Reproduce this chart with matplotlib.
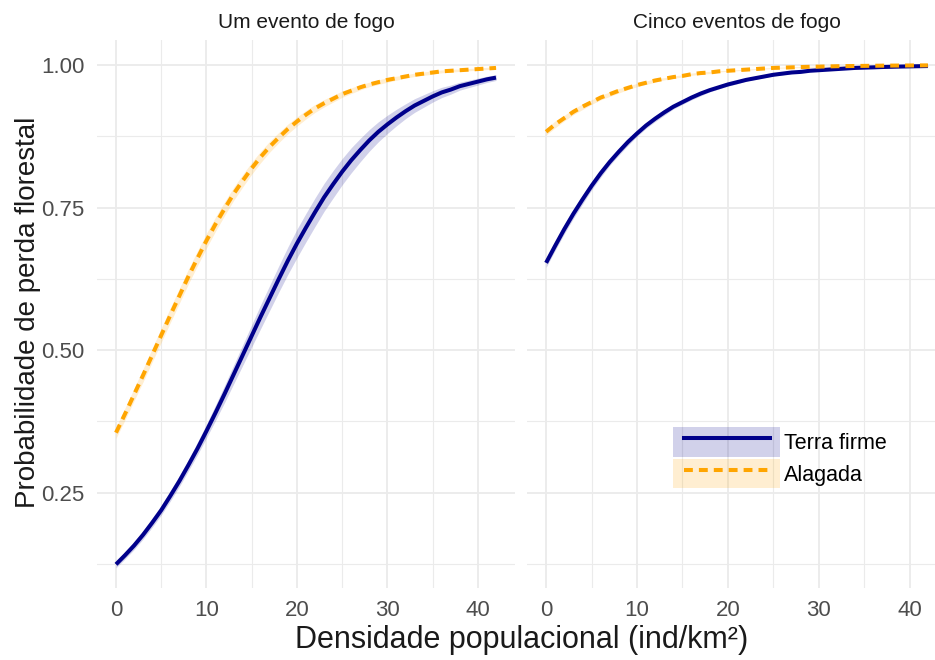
import matplotlib.pyplot as plt
from matplotlib.lines import Line2D
from matplotlib.patches import Patch
from matplotlib.ticker import MultipleLocator
from matplotlib.colors import to_rgba
from matplotlib.legend_handler import HandlerLine2D

plt.rcParams['font.family'] = ['Liberation Sans', 'DejaVu Sans']

# densidade populacional (ind/km2) onde as curvas foram lidas
densidade = list(range(0, 43))

# um evento de fogo
terra_um = [0.124, 0.140, 0.157, 0.176, 0.197, 0.219, 0.244, 0.270, 0.298, 0.327,
            0.358, 0.390, 0.423, 0.457, 0.491, 0.525, 0.559, 0.592, 0.625, 0.657,
            0.687, 0.715, 0.742, 0.768, 0.791, 0.813, 0.833, 0.851, 0.868, 0.883,
            0.896, 0.908, 0.919, 0.929, 0.937, 0.945, 0.952, 0.957, 0.963, 0.967,
            0.971, 0.975, 0.978]
terra_um_se = [0.006, 0.0065, 0.007, 0.0075, 0.008, 0.0085, 0.009, 0.0095, 0.010, 0.011,
               0.012, 0.0135, 0.015, 0.0165, 0.018, 0.0195, 0.021, 0.022, 0.023, 0.024,
               0.025, 0.025, 0.025, 0.0245, 0.024, 0.023, 0.022, 0.0205, 0.019, 0.0175,
               0.016, 0.0145, 0.013, 0.012, 0.011, 0.010, 0.009, 0.008, 0.007, 0.0065,
               0.006, 0.0055, 0.005]
alagada_um = [0.355, 0.388, 0.422, 0.456, 0.491, 0.526, 0.561, 0.595, 0.629, 0.661,
              0.692, 0.721, 0.748, 0.774, 0.797, 0.819, 0.839, 0.857, 0.873, 0.888,
              0.901, 0.913, 0.924, 0.933, 0.941, 0.949, 0.955, 0.961, 0.966, 0.970,
              0.974, 0.977, 0.980, 0.983, 0.985, 0.987, 0.989, 0.990, 0.991, 0.992,
              0.993, 0.994, 0.995]
alagada_um_se = [0.010, 0.0105, 0.011, 0.0115, 0.012, 0.0125, 0.013, 0.013, 0.013, 0.013,
                 0.013, 0.0125, 0.012, 0.0115, 0.011, 0.0105, 0.010, 0.0095, 0.009, 0.0085,
                 0.008, 0.0075, 0.007, 0.0065, 0.006, 0.0055, 0.005, 0.0045, 0.004, 0.004,
                 0.004, 0.0035, 0.003, 0.003, 0.003, 0.003, 0.0025, 0.0025, 0.002, 0.002,
                 0.002, 0.002, 0.002]

# cinco eventos de fogo
terra_cinco = [0.653, 0.683, 0.712, 0.739, 0.764, 0.788, 0.810, 0.830, 0.848, 0.865,
               0.880, 0.894, 0.906, 0.917, 0.927, 0.935, 0.943, 0.950, 0.956, 0.961,
               0.966, 0.970, 0.974, 0.977, 0.980, 0.983, 0.985, 0.987, 0.988, 0.990,
               0.991, 0.992, 0.993, 0.994, 0.995, 0.9955, 0.996, 0.9966, 0.997, 0.9974,
               0.9977, 0.998, 0.9983]
terra_cinco_se = [0.008, 0.008, 0.008, 0.008, 0.008, 0.007, 0.007, 0.006, 0.006, 0.006,
                  0.005, 0.005, 0.005, 0.005, 0.004, 0.004, 0.004, 0.004, 0.003, 0.003,
                  0.003, 0.003, 0.002, 0.002, 0.002, 0.002, 0.002, 0.002, 0.001, 0.001,
                  0.001, 0.001, 0.001, 0.001, 0.001, 0.001, 0.001, 0.001, 0.001, 0.001,
                  0.001, 0.001, 0.001]
alagada_cinco = [0.883, 0.896, 0.907, 0.918, 0.927, 0.935, 0.943, 0.949, 0.955, 0.960,
                 0.965, 0.969, 0.973, 0.976, 0.979, 0.981, 0.984, 0.986, 0.987, 0.989,
                 0.990, 0.991, 0.992, 0.993, 0.994, 0.995, 0.9955, 0.996, 0.9965, 0.997,
                 0.9973, 0.9976, 0.998, 0.9982, 0.9984, 0.9986, 0.9988, 0.999, 0.9991, 0.9992,
                 0.9993, 0.9994, 0.9995]
alagada_cinco_se = [0.006, 0.006, 0.005, 0.005, 0.005, 0.004, 0.004, 0.004, 0.004, 0.003,
                    0.003, 0.003, 0.003, 0.002, 0.002, 0.002, 0.002, 0.002, 0.002, 0.001,
                    0.001, 0.001, 0.001, 0.001, 0.001, 0.001, 0.001, 0.001, 0.001, 0.001,
                    0.001, 0.001, 0.001, 0.001, 0.001, 0.001, 0.001, 0.001, 0.001, 0.001,
                    0.001, 0.001, 0.001]

paineis = ["Um evento de fogo", "Cinco eventos de fogo"]
series = ["Terra firme", "Alagada"]
x_ticks = [0, 10, 20, 30, 40]
y_ticks = [0.25, 0.50, 0.75, 1.00]
y_tick_labels = ["0.25", "0.50", "0.75", "1.00"]

AZUL = "#00008B"
LARANJA = "#FFA500"
GRADE = "#EBEBEB"
LW = 2.9
TRACO = (0, (2.2, 1.5))

W, H = 935, 660
fig = plt.figure(figsize=(W / 100, H / 100), dpi=100)
ax1 = fig.add_axes([97 / W, 1 - 588 / H, 418 / W, 548 / H])
ax2 = fig.add_axes([527 / W, 1 - 588 / H, 420 / W, 548 / H])

dados = [
    (ax1, terra_um, terra_um_se, alagada_um, alagada_um_se),
    (ax2, terra_cinco, terra_cinco_se, alagada_cinco, alagada_cinco_se),
]

for (ax, terra, terra_se, alag, alag_se), titulo in zip(dados, paineis):
    ax.fill_between(densidade, [v - s for v, s in zip(terra, terra_se)],
                    [v + s for v, s in zip(terra, terra_se)],
                    color=AZUL, alpha=0.18, lw=0)
    ax.fill_between(densidade, [v - s for v, s in zip(alag, alag_se)],
                    [v + s for v, s in zip(alag, alag_se)],
                    color=LARANJA, alpha=0.18, lw=0)
    ax.plot(densidade, terra, color=AZUL, lw=LW, solid_capstyle='butt')
    ax.plot(densidade, alag, color=LARANJA, lw=LW, linestyle=TRACO)

    ax.set_xlim(-2.1, 44.1)
    ax.set_ylim(0.0825, 1.044)
    ax.set_xticks(x_ticks)
    ax.set_yticks(y_ticks)
    ax.xaxis.set_minor_locator(MultipleLocator(5))
    ax.yaxis.set_minor_locator(MultipleLocator(0.125))
    ax.grid(which='major', color=GRADE, lw=1.3)
    ax.grid(which='minor', color=GRADE, lw=0.8)
    ax.set_axisbelow(True)
    for sp in ax.spines.values():
        sp.set_visible(False)
    ax.tick_params(which='both', length=0, labelsize=16, labelcolor='#4D4D4D', pad=9)
    ax.set_title(titulo, fontsize=15, color='#1A1A1A', pad=9)

ax1.set_yticklabels(y_tick_labels)
ax2.set_yticklabels([])

fig.text(522 / W, 1 - 640 / H, "Densidade populacional (ind/km²)",
         ha='center', va='center', fontsize=22, color='#1A1A1A')
fig.text(28 / W, 1 - 312 / H, "Probabilidade de perda florestal",
         ha='center', va='center', rotation=90, fontsize=20, color='#1A1A1A')

handles = [
    (Patch(facecolor=to_rgba(AZUL, 0.18), edgecolor='none'),
     Line2D([], [], color=AZUL, lw=LW)),
    (Patch(facecolor=to_rgba(LARANJA, 0.18), edgecolor='none'),
     Line2D([], [], color=LARANJA, lw=LW, linestyle=TRACO)),
]
fig.legend(handles=handles, labels=series, loc='upper left',
           bbox_to_anchor=(662 / W, 1 - 416 / H), frameon=False,
           borderpad=0, handlelength=5.0, handleheight=1.75,
           labelspacing=0.1, handletextpad=0.15, fontsize=15.5,
           handler_map={Line2D: HandlerLine2D(numpoints=2, marker_pad=0.5)})

fig.savefig("out.png", dpi=100)
